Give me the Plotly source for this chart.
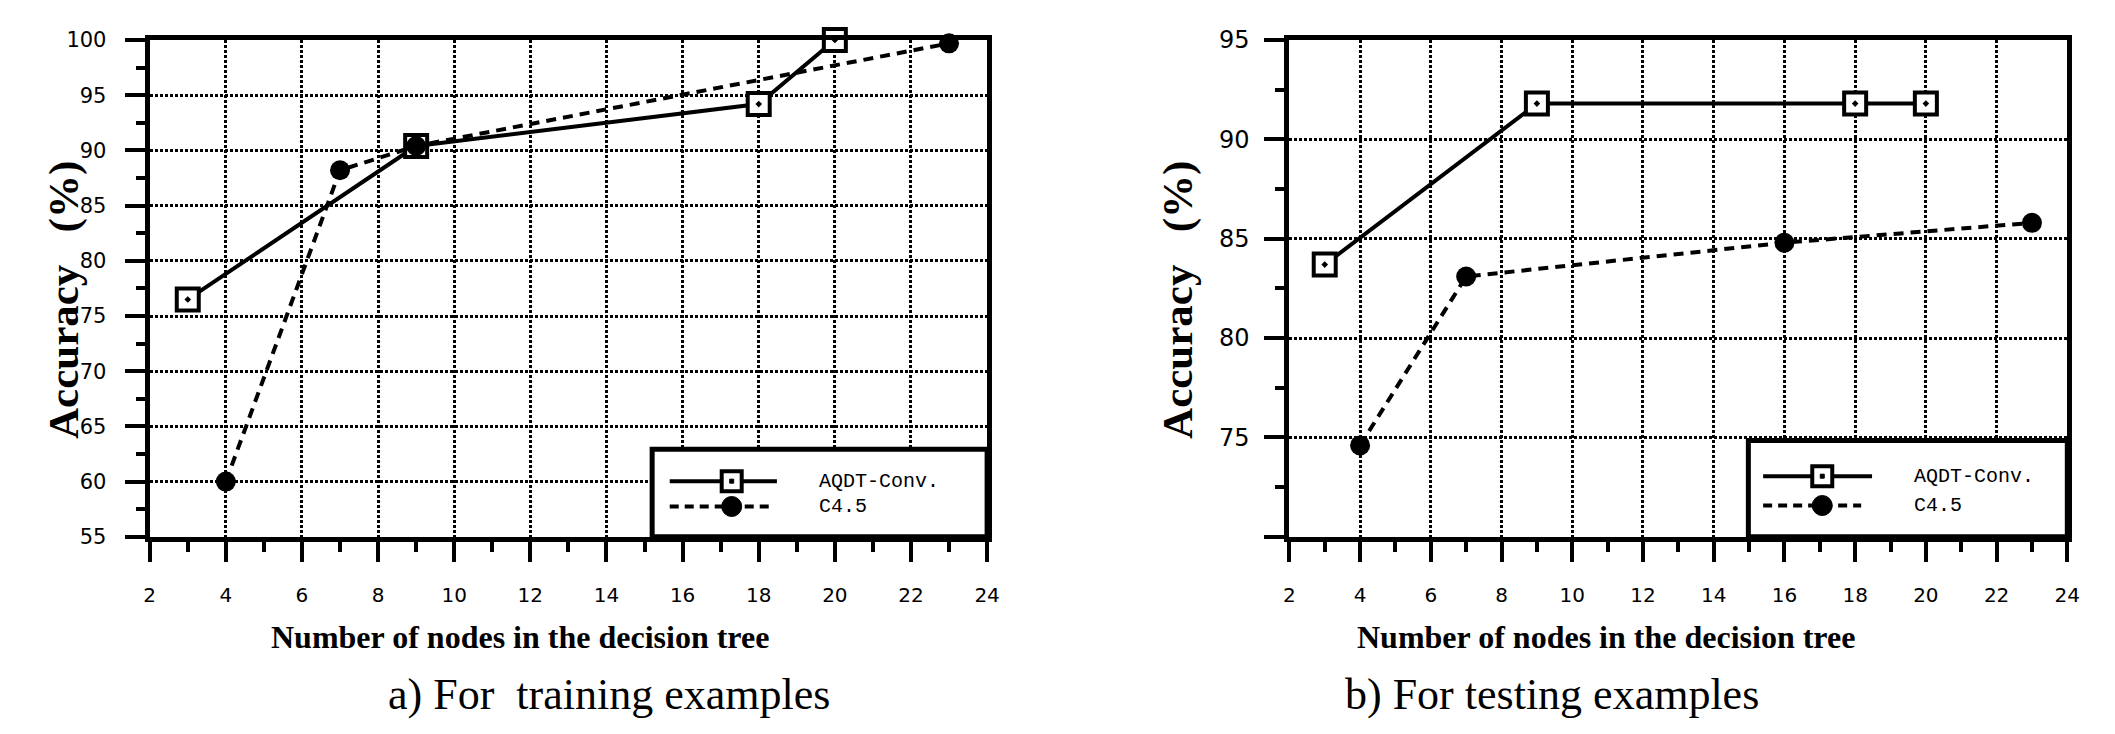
import plotly.graph_objects as go

# ---------------- data ----------------
series_names = ["AQDT-Conv.", "C4.5"]

nodes_train_aqdt = [3, 9, 18, 20]
acc_train_aqdt = [76.5, 90.4, 94.2, 100.0]
nodes_train_c45 = [4, 7, 9, 23]
acc_train_c45 = [60.0, 88.2, 90.4, 99.7]

nodes_test_aqdt = [3, 9, 18, 20]
acc_test_aqdt = [83.7, 91.8, 91.8, 91.8]
nodes_test_c45 = [4, 7, 16, 23]
acc_test_c45 = [74.6, 83.1, 84.8, 85.8]

x_tick_values = [2, 4, 6, 8, 10, 12, 14, 16, 18, 20, 22, 24]
x_tick_labels = ["2", "4", "6", "8", "10", "12", "14", "16", "18", "20", "22", "24"]
train_y_ticks = [55, 60, 65, 70, 75, 80, 85, 90, 95, 100]
test_y_ticks = [70, 75, 80, 85, 90, 95]
test_y_labels = ["", "75", "80", "85", "90", "95"]

x_title = "Number of nodes in the decision tree"
y_title = "Accuracy&nbsp;&nbsp;&nbsp;(%)"
sub_titles = ["a) For&nbsp;&nbsp;training examples", "b) For testing examples"]

# ---------------- figure ----------------
W, H = 2115, 734
fig = go.Figure()


def add_pair(xa, ya, xs1, ys1, xs2, ys2):
    fig.add_trace(go.Scatter(
        x=xs1, y=ys1, name=series_names[0], mode="lines+markers",
        xaxis=xa, yaxis=ya, cliponaxis=False, showlegend=False,
        line=dict(color="black", width=4),
        marker=dict(symbol="square-dot", size=22, color="white",
                    line=dict(color="black", width=4))))
    fig.add_trace(go.Scatter(
        x=xs2, y=ys2, name=series_names[1], mode="lines+markers",
        xaxis=xa, yaxis=ya, cliponaxis=False, showlegend=False,
        line=dict(color="black", width=4, dash="10px,7px"),
        marker=dict(symbol="circle", size=20, color="black")))


add_pair("x", "y", nodes_train_aqdt, acc_train_aqdt, nodes_train_c45, acc_train_c45)
add_pair("x2", "y2", nodes_test_aqdt, acc_test_aqdt, nodes_test_c45, acc_test_c45)

tick_font = dict(family="DejaVu Sans", size=20, color="black")
grid = dict(showgrid=True, gridcolor="black", gridwidth=3, griddash="3px,2px")
line = dict(showline=True, linecolor="black", linewidth=5, mirror=True, zeroline=False)


def xaxis(domain, anchor):
    return dict(domain=domain, anchor=anchor, range=[2, 24],
                tickvals=x_tick_values, ticktext=x_tick_labels,
                ticks="outside", ticklen=20, tickwidth=4, tickcolor="black",
                minor=dict(dtick=1, tick0=0, ticks="outside", ticklen=10,
                           tickwidth=4, tickcolor="black", showgrid=False),
                ticklabelstandoff=16, tickfont=tick_font, **grid, **line)


def yaxis(domain, anchor, rng, vals, labels, size, standoff):
    return dict(domain=domain, anchor=anchor, range=rng,
                tickvals=vals, ticktext=labels,
                ticks="outside", ticklen=20, tickwidth=4, tickcolor="black",
                minor=dict(dtick=2.5, tick0=0, ticks="outside", ticklen=9,
                           tickwidth=4, tickcolor="black", showgrid=False),
                ticklabelstandoff=standoff,
                tickfont=dict(family="DejaVu Sans", size=size, color="black"),
                **grid, **line)


ydom = [1 - 542 / H, 1 - 27 / H]
fig.update_layout(
    width=W, height=H, autosize=False,
    margin=dict(l=0, r=0, t=0, b=0),
    paper_bgcolor="white", plot_bgcolor="white",
    showlegend=False,
    xaxis=xaxis([145 / W, 990 / W], "y"),
    yaxis=yaxis(ydom, "x", [55, 100], train_y_ticks,
                [str(v) for v in train_y_ticks], 21, 14),
    xaxis2=xaxis([1295 / W, 2080 / W], "y2"),
    yaxis2=yaxis(ydom, "x2", [70, 95], test_y_ticks, test_y_labels, 24, 10),
)

# ---------------- titles ----------------
serif_bold = dict(family="Liberation Serif", size=32, color="black", weight="bold")
serif_bold_y = dict(family="Liberation Serif", size=43, color="black", weight="bold")
serif = dict(family="Liberation Serif", size=44, color="black")
ann = []
for cx in (519, 1614):
    ann.append(dict(text=x_title, x=cx / W, y=1 - 646 / H, xref="paper", yref="paper",
                    showarrow=False, font=serif_bold, xanchor="center", yanchor="middle"))
for cx, txt in zip((608, 1560), sub_titles):
    ann.append(dict(text=txt, x=cx / W, y=1 - 706 / H, xref="paper", yref="paper",
                    showarrow=False, font=serif, xanchor="center", yanchor="middle"))
for cx in (58, 1182):
    ann.append(dict(text=y_title, x=cx / W, y=1 - 296 / H, xref="paper", yref="paper",
                    showarrow=False, font=serif_bold_y, textangle=-90,
                    xanchor="center", yanchor="middle"))

# ---------------- legends (drawn inside each panel) ----------------
shapes = []
legend_specs = [
    # xref, yref, box x0, box top, sample x0, solid x1, dashed x1, marker x, rows, text x
    ("x domain", "y domain", 0.600, 0.176, 0.621, 0.749, 0.740, 0.695, (0.112, 0.061), 0.797),
    ("x2 domain", "y2 domain", 0.590, 0.194, 0.609, 0.749, 0.735, 0.685, (0.122, 0.063), 0.800),
]
mono = dict(family="Liberation Mono", size=20, color="black")
for xr, yr, bx0, btop, sx0, sx1, dx1, mx, (r1, r2), tx in legend_specs:
    shapes.append(dict(type="rect", xref=xr, yref=yr, x0=bx0, x1=1, y0=0, y1=btop,
                       fillcolor="white", line=dict(color="black", width=5), layer="above"))
    shapes.append(dict(type="line", xref=xr, yref=yr, x0=sx0, x1=sx1, y0=r1, y1=r1,
                       line=dict(color="black", width=4)))
    shapes.append(dict(type="line", xref=xr, yref=yr, x0=sx0, x1=dx1, y0=r2, y1=r2,
                       line=dict(color="black", width=4, dash="9px,6px")))
    shapes.append(dict(type="rect", xref=xr, yref=yr, xsizemode="pixel", ysizemode="pixel",
                       xanchor=mx, yanchor=r1, x0=-10, x1=10, y0=-10, y1=10,
                       fillcolor="white", line=dict(color="black", width=4)))
    shapes.append(dict(type="rect", xref=xr, yref=yr, xsizemode="pixel", ysizemode="pixel",
                       xanchor=mx, yanchor=r1, x0=-2, x1=2, y0=-2, y1=2,
                       fillcolor="black", line=dict(color="black", width=1)))
    shapes.append(dict(type="circle", xref=xr, yref=yr, xsizemode="pixel", ysizemode="pixel",
                       xanchor=mx, yanchor=r2, x0=-10, x1=10, y0=-10, y1=10,
                       fillcolor="black", line=dict(color="black", width=1)))
    for row, name in zip((r1, r2), series_names):
        ann.append(dict(text=name, x=tx, y=row, xref=xr, yref=yr, showarrow=False,
                        font=mono, xanchor="left", yanchor="middle"))

fig.update_layout(annotations=ann, shapes=shapes)
fig.write_html("out.html",
               config={"displayModeBar": False},
               post_script="document.body.style.margin='0px';document.body.style.overflow='hidden';")
